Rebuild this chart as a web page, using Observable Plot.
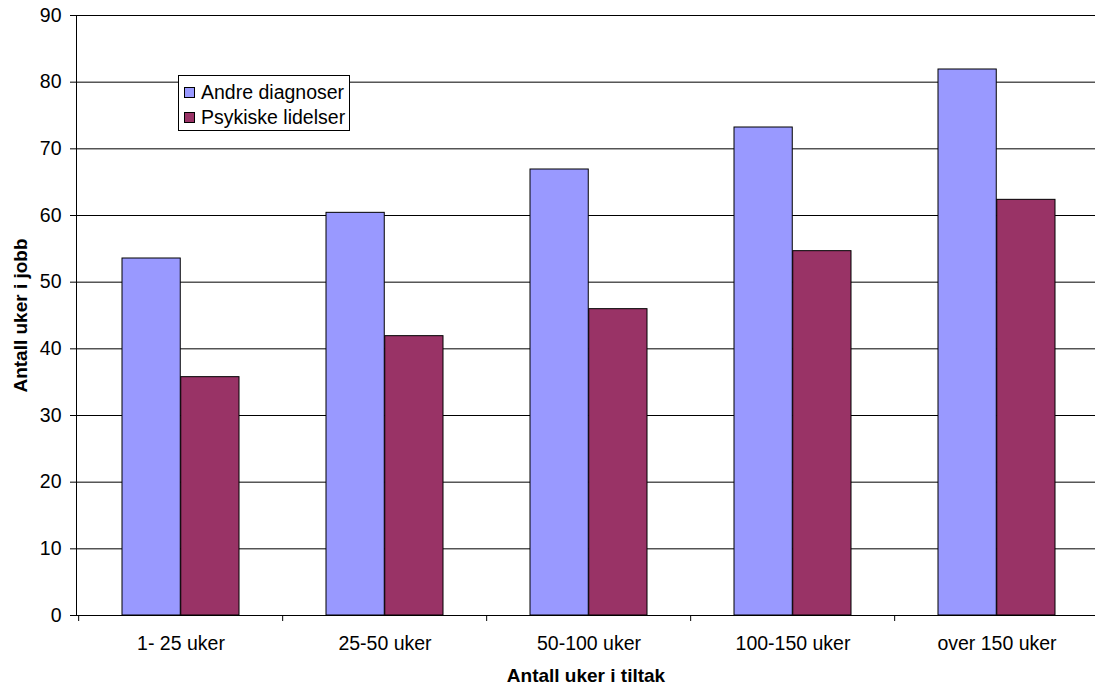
<!DOCTYPE html>
<html>
<head>
<meta charset="utf-8">
<script src="https://cdn.jsdelivr.net/npm/d3@7"></script>
<script src="https://cdn.jsdelivr.net/npm/@observablehq/plot@0.6"></script>
<style>
  html, body { margin: 0; padding: 0; background: #fff; }
  #wrap { position: relative; width: 1095px; height: 686px; overflow: hidden; font-family: "Liberation Sans", Arial, sans-serif; }
  .legend { position: absolute; left: 178px; top: 75px; width: 172px; height: 56px; background: #fff; border: 1px solid #000; box-sizing: border-box; font-size: 19.5px; color: #000; }
  .legend .row { position: absolute; left: 5px; height: 20px; display: flex; align-items: center; white-space: nowrap; }
  .legend .sw { width: 11px; height: 11px; border: 1px solid #000; margin-right: 6px; box-sizing: border-box; }
</style>
</head>
<body>
<div id="wrap"></div>
<script>
const categories = ["1- 25 uker", "25-50 uker", "50-100 uker", "100-150 uker", "over 150 uker"];
const seriesNames = ["Andre diagnoser", "Psykiske lidelser"];
const andreDiagnoser = [53.55, 60.4, 66.9, 73.2, 81.9];
const psykiskeLidelser = [35.75, 41.9, 45.95, 54.65, 62.35];
const seriesColors = ["#9999FF", "#993366"];
const yTicks = [0, 10, 20, 30, 40, 50, 60, 70, 80, 90];
const yTitle = "Antall uker i jobb";
const xTitle = "Antall uker i tiltak";

const rows = categories.map((c, i) => ({category: c, andre: andreDiagnoser[i], psyk: psykiskeLidelser[i]}));

const xRange = [76.7, 1100];
const step = (xRange[1] - xRange[0]) / categories.length;
const font = "Liberation Sans, Arial, sans-serif";

const chart = Plot.plot({
  width: 1095,
  height: 686,
  marginLeft: 76,
  marginRight: 0,
  marginTop: 15,
  marginBottom: 71,
  style: {fontFamily: font, fontSize: "19.5px", background: "#fff", color: "#000"},
  x: {domain: categories, range: xRange, paddingInner: 0.426, paddingOuter: 0.213, align: 0.5},
  y: {domain: [0, 90], ticks: yTicks},
  marks: [
    Plot.ruleY(yTicks, {stroke: "#000", strokeWidth: 1}),
    Plot.barY(rows, {x: "category", y: "andre", fill: seriesColors[0], stroke: "#000", strokeWidth: 1, insetRight: 58.75}),
    Plot.barY(rows, {x: "category", y: "psyk", fill: seriesColors[1], stroke: "#000", strokeWidth: 1, insetLeft: 58.75}),
    Plot.frame({anchor: "left", stroke: "#000"}),
    Plot.axisY({ticks: yTicks, tickSize: 6, tickPadding: 9, label: null, fontSize: 19.5, stroke: "#000"}),
    Plot.axisX({tickSize: 0, tickPadding: 21, label: null, fontSize: 19.5}),
    Plot.axisX({tickSize: 6, text: null, label: null, dx: -step / 2, stroke: "#000"}),
    Plot.text([yTitle], {frameAnchor: "left", rotate: -90, dx: -56, fontWeight: "bold", fontSize: 19, textAnchor: "middle", lineAnchor: "middle"}),
    Plot.text([xTitle], {frameAnchor: "bottom", dy: 60, fontWeight: "bold", fontSize: 19, textAnchor: "middle", lineAnchor: "middle"})
  ]
});

const wrap = document.getElementById("wrap");
wrap.appendChild(chart);

const legend = document.createElement("div");
legend.className = "legend";
seriesNames.forEach((name, i) => {
  const row = document.createElement("div");
  row.className = "row";
  row.style.top = (6 + i * 25) + "px";
  const sw = document.createElement("div");
  sw.className = "sw";
  sw.style.background = seriesColors[i];
  const label = document.createElement("span");
  label.textContent = name;
  row.appendChild(sw);
  row.appendChild(label);
  legend.appendChild(row);
});
wrap.appendChild(legend);
</script>
</body>
</html>
